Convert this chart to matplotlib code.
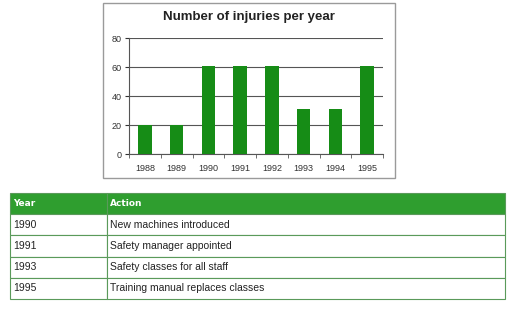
import matplotlib.pyplot as plt
from matplotlib.patches import Rectangle

years = ['1988', '1989', '1990', '1991', '1992', '1993', '1994', '1995']
injuries = [20, 20, 61, 61, 61, 31, 31, 61]

table_years = ['1990', '1991', '1993', '1995']
table_actions = ['New machines introduced', 'Safety manager appointed',
                 'Safety classes for all staff', 'Training manual replaces classes']

W, H = 512, 309
fig = plt.figure(figsize=(W / 100, H / 100), dpi=100, facecolor='white')

# grey frame round the chart
fig.add_artist(Rectangle((103 / W, 1 - 178 / H), 292 / W, 175 / H,
                         transform=fig.transFigure, fill=False,
                         edgecolor='#9a9a9a', linewidth=1))
fig.text(249 / W, 1 - 17 / H, 'Number of injuries per year', ha='center', va='center',
         fontsize=9.5, fontweight='bold', family='Liberation Sans', color='#222222')

ax = fig.add_axes([129 / W, 1 - 154 / H, 254 / W, 116 / H])
x = range(len(years))
ax.bar(x, injuries, width=0.42, color='#168c16', zorder=3)
ax.set_ylim(0, 80)
ax.set_xlim(-0.5, len(years) - 0.5)
ax.set_yticks([0, 20, 40, 60, 80])
ax.yaxis.grid(True, color='#555555', linewidth=0.8, zorder=1)
ax.set_xticks(list(x))
ax.set_xticklabels(years)
ax.set_xticks([i + 0.5 for i in range(-1, len(years))], minor=True)
ax.tick_params(axis='x', which='major', length=0, labelsize=6.5, colors='#333333', pad=7)
ax.tick_params(axis='x', which='minor', length=3, color='#555555')
ax.tick_params(axis='y', length=3, labelsize=6.5, colors='#333333', pad=2)
for s in ['top', 'right']:
    ax.spines[s].set_visible(False)
for s in ['left', 'bottom']:
    ax.spines[s].set_color('#555555')
    ax.spines[s].set_linewidth(0.8)
for lbl in ax.get_xticklabels() + ax.get_yticklabels():
    lbl.set_family('Liberation Sans')

# table
tax = fig.add_axes([0, 0, 1, 1])
tax.axis('off')
rows = [[y, a] for y, a in zip(table_years, table_actions)]
tbl = tax.table(cellText=rows, colLabels=['Year', 'Action'],
                colWidths=[97 / 495, 398 / 495], cellLoc='left', colLoc='left',
                bbox=[10 / W, 1 - 299 / H, 495 / W, 106 / H])
tbl.auto_set_font_size(False)
for (r, c), cell in tbl.get_celld().items():
    cell.set_edgecolor('#5a9a5a')
    cell.set_linewidth(0.8)
    cell.PAD = 0.03 if c == 0 else 0.008
    t = cell.get_text()
    t.set_family('Liberation Sans')
    if r == 0:
        cell.set_facecolor('#2f9e2f')
        t.set_color('white')
        t.set_fontweight('bold')
        t.set_fontsize(6.5)
        t.set_family('Liberation Sans Narrow')
    else:
        cell.set_facecolor('white')
        t.set_color('#222222')
        t.set_fontsize(7.5)

fig.savefig('out.png', dpi=100, facecolor='white')
